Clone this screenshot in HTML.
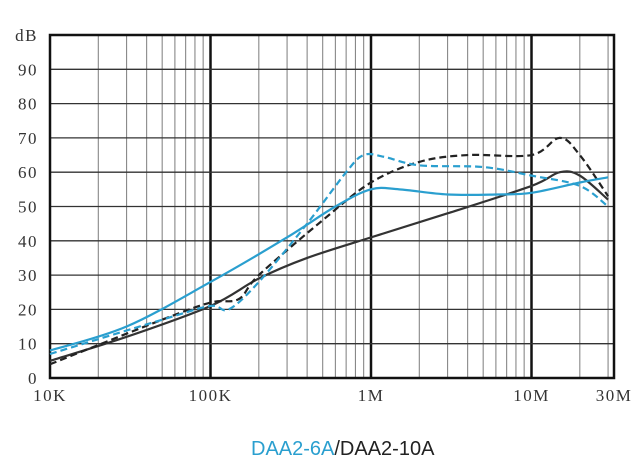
<!DOCTYPE html>
<html><head><meta charset="utf-8"><style>
body{margin:0;background:#fff;width:636px;height:475px;overflow:hidden}
svg{display:block}
.ax{font-family:"Liberation Serif",serif;font-size:17px;fill:#333;letter-spacing:1.5px}
</style></head><body>
<svg width="636" height="475">
<g id="grid"></g>
<g id="series"></g>
<g id="labels"></g>
<text x="251" y="455" font-family="Liberation Sans, sans-serif" font-size="20"><tspan fill="#2a9fcf">DAA2-6A</tspan><tspan fill="#222">/DAA2-10A</tspan></text>
</svg>
<script>
const yTicks=[0,10,20,30,40,50,60,70,80,90];
const xTickVals=[1e4,1e5,1e6,1e7,3e7];
const xTickLabels=["10K","100K","1M","10M","30M"];
const blueSolidF=[1e4,3e4,1e5,3e5,6e5,1e6,1.5e6,3e6,6e6,1e7,2e7,3e7];
const blueSolidV=[8,15,28,41,50,55,55,53.5,53.5,54,57,58.5];
const blueDashF=[1e4,5e4,1e5,1.3e5,2e5,4e5,7e5,9e5,1.2e6,2e6,5e6,1e7,2e7,3e7];
const blueDashV=[7,17,21,20,28,45,60,65,64.5,62,61.5,59,56,50];
const darkSolidF=[1e4,3e4,1e5,2e5,4e5,1e6,3e6,1e7,1.5e7,2e7,3e7];
const darkSolidV=[5,12,21,29,35,41,48,56,60,59,52];
const darkDashF=[1e4,5e4,1e5,1.5e5,2e5,5e5,1e6,2e6,4e6,1e7,1.5e7,2e7,3e7];
const darkDashV=[4,17,22,23,30,46,57,63,65,65,70,65,53];
const L=50,R=614,T=35,B=378,DEC=160.5;
const X=f=>L+Math.log10(f/1e4)*DEC;
const Y=v=>B-v*(B-T)/100;
const NS="http://www.w3.org/2000/svg";
function mk(t,a,p){const e=document.createElementNS(NS,t);for(const k in a)e.setAttribute(k,a[k]);p.appendChild(e);return e;}
const g=document.getElementById('grid');
for(let d=1e4;d<=1e7;d*=10){for(let m=2;m<=9;m++){const f=d*m;if(f>3e7)break;const x=X(f);
const l=mk('line',{x1:x,x2:x,y1:T,y2:B,stroke:'#888','stroke-width':1.1},g);

}}
[1e5,1e6,1e7].forEach(f=>{const l=mk('line',{x1:X(f),x2:X(f),y1:T,y2:B,stroke:'#111','stroke-width':2.5},g);

});
for(let v=10;v<100;v+=10){const l=mk('line',{x1:L,x2:R,y1:Y(v),y2:Y(v),stroke:'#333','stroke-width':1.3},g);

}
const fr=mk('rect',{x:L,y:T,width:R-L,height:B-T,fill:'none',stroke:'#111','stroke-width':2.5},g);


const lb=document.getElementById('labels');
yTicks.forEach(v=>{const t=mk('text',{x:38,y:Y(v)+6,'text-anchor':'end',class:'ax'},lb);t.textContent=v;

});
const db=mk('text',{x:38,y:Y(100)+6,'text-anchor':'end',class:'ax'},lb);db.textContent='dB';


xTickVals.forEach((f,i)=>{const t=mk('text',{x:X(f)+(i==4?6:0),y:401,'text-anchor':'middle',class:'ax'},lb);t.textContent=xTickLabels[i];

});
function path(F,V){let s='';const p=F.map((f,i)=>[X(f),Y(V[i])]);s='M'+p[0][0]+','+p[0][1];
for(let i=0;i<p.length-1;i++){const p0=p[i-1]||p[i],p1=p[i],p2=p[i+1],p3=p[i+2]||p2;
s+=` C${p1[0]+(p2[0]-p0[0])/6},${p1[1]+(p2[1]-p0[1])/6} ${p2[0]-(p3[0]-p1[0])/6},${p2[1]-(p3[1]-p1[1])/6} ${p2[0]},${p2[1]}`;}return s;}
const sg=document.getElementById('series');
[[darkSolidF,darkSolidV,'#333',null,'daa2-10a-solid'],[darkDashF,darkDashV,'#222','7,4','daa2-10a-dashed'],
 [blueSolidF,blueSolidV,'#2a9fcf',null,'daa2-6a-solid'],[blueDashF,blueDashV,'#2a9fcf','7,4','daa2-6a-dashed']].forEach(s=>{
 const a={d:path(s[0],s[1]),fill:'none',stroke:s[2],'stroke-width':2.2};if(s[3])a['stroke-dasharray']=s[3];
 const p=mk('path',a,sg);
 
 });
</script>
</body></html>
